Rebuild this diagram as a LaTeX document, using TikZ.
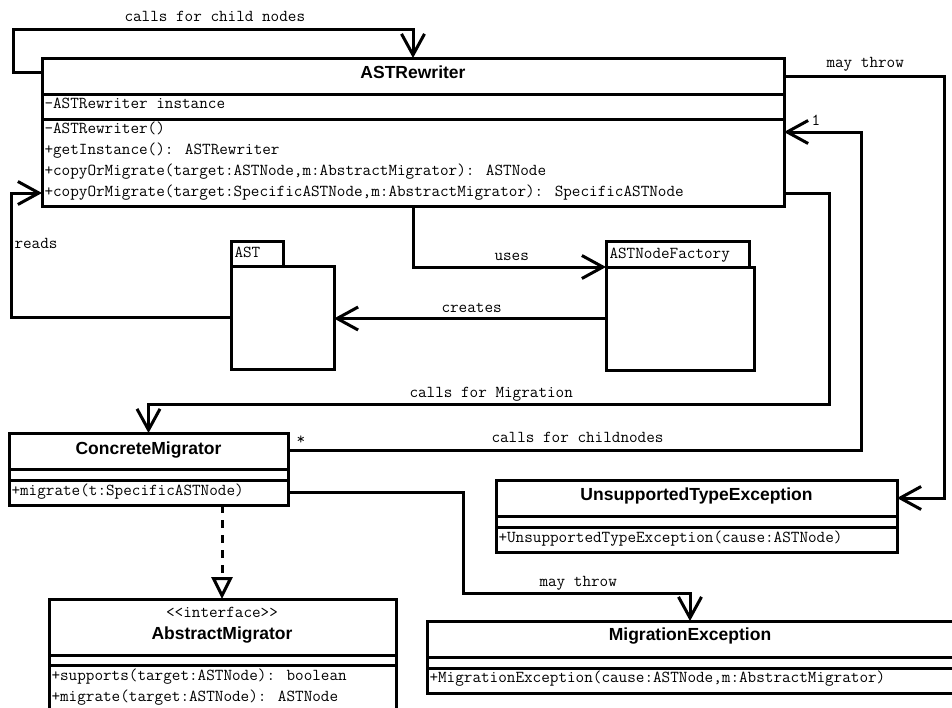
\documentclass[tikz,border=0pt]{standalone}
\usepackage{fontspec}
\setmainfont{Liberation Sans}
\newfontfamily\umlmono{Latin Modern Mono}
\usetikzlibrary{arrows.meta}
\begin{document}
\begin{tikzpicture}[x=1pt,y=-1pt,
  line width=3pt,
  box/.style={draw, line width=3pt, rectangle, inner sep=0pt, outer sep=0pt, anchor=north west},
  mono/.style={font=\umlmono\fontsize{16.7}{19}\selectfont, inner sep=0pt, anchor=base west},
  cname/.style={font=\bfseries\fontsize{17.5}{20}\selectfont, inner sep=0pt, anchor=base},
  assoc/.style={-{Straight Barb[length=21pt,width=23pt]}, line join=miter},
  realize/.style={dash pattern=on 8pt off 7pt, -{Triangle[length=22pt,width=21pt,fill=white]}}
]
\useasboundingbox (0,0) rectangle (952,707);
\clip (0,0) rectangle (952,707);

% ---------- ASTRewriter ----------
\node[box, minimum width=742pt, minimum height=148pt] (rw) at (42,58) {};
\draw (rw.west |- 0,94) -- (rw.east |- 0,94);
\draw (rw.west |- 0,119) -- (rw.east |- 0,119);
\node[cname] (rwT) at (413,78) {ASTRewriter};
\node[mono] (rwA) at (43,108) {-ASTRewriter instance};
\node[mono] (rwO1) at (43,133) {-ASTRewriter()};
\node[mono] (rwO2) at (43,154) {+getInstance(): ASTRewriter};
\node[mono] (rwO3) at (43,175) {+copyOrMigrate(target:ASTNode,m:AbstractMigrator): ASTNode};
\node[mono] (rwO4) at (43,196) {+copyOrMigrate(target:SpecificASTNode,m:AbstractMigrator): SpecificASTNode};

% ---------- AST package ----------
\node[box, minimum width=52pt, minimum height=25pt] (astTab) at (231,241) {};
\node[box, minimum width=103pt, minimum height=103pt] (ast) at (231,266) {};
\node[mono] (astL) at (233,257) {AST};

% ---------- ASTNodeFactory package ----------
\node[box, minimum width=143pt, minimum height=26pt] (facTab) at (606,241) {};
\node[box, minimum width=148pt, minimum height=103pt] (fac) at (606,267) {};
\node[mono] (facL) at (608,258) {ASTNodeFactory};

% ---------- ConcreteMigrator ----------
\node[box, minimum width=279pt, minimum height=72pt] (cm) at (9,433) {};
\draw (cm.west |- 0,469) -- (cm.east |- 0,469);
\draw (cm.west |- 0,480) -- (cm.east |- 0,480);
\node[cname] (cmT) at (148.5,454) {ConcreteMigrator};
\node[mono] (cmO) at (10,495) {+migrate(t:SpecificASTNode)};

% ---------- UnsupportedTypeException ----------
\node[box, minimum width=401pt, minimum height=72pt] (ute) at (496,480) {};
\draw (ute.west |- 0,516) -- (ute.east |- 0,516);
\draw (ute.west |- 0,527) -- (ute.east |- 0,527);
\node[cname] (uteT) at (696.5,500) {UnsupportedTypeException};
\node[mono] (uteO) at (497,542) {+UnsupportedTypeException(cause:ASTNode)};

% ---------- MigrationException ----------
\node[box, minimum width=540pt, minimum height=72pt] (me) at (427,621) {};
\draw (me.west |- 0,657) -- (me.east |- 0,657);
\draw (me.west |- 0,668) -- (me.east |- 0,668);
\node[cname] (meT) at (690,640) {MigrationException};
\node[mono] (meO) at (428,682) {+MigrationException(cause:ASTNode,m:AbstractMigrator)};

% ---------- AbstractMigrator ----------
\node[box, minimum width=347pt, minimum height=125pt] (am) at (49,599) {};
\draw (am.west |- 0,655) -- (am.east |- 0,655);
\draw (am.west |- 0,665) -- (am.east |- 0,665);
\node[mono, anchor=base] (amS) at (222,617) {<<interface>>};
\node[cname] (amT) at (222,639.5) {AbstractMigrator};
\node[mono] (amO1) at (50,680) {+supports(target:ASTNode): boolean};
\node[mono] (amO2) at (50,701) {+migrate(target:ASTNode): ASTNode};

% ---------- connectors ----------
% recursion on child nodes
\draw[assoc] (rw.west |- 0,72) -- (13,72) -- (13,29) -- (413,29) -- (rw.north);
\node[mono] (lChild) at (123,21) {calls for child nodes};

% reading the tree
\draw[assoc] (ast.west) -- (11,317.5) -- (11,193) -- (rw.west |- 0,193);
\node[mono] (lReads) at (13,248) {reads};

% factory usage
\draw[assoc] (rw.south) |- (fac.north west);
\node[mono] (lUses) at (493,260) {uses};

% factory creates tree nodes
\draw[assoc] (fac.west) -- (ast.east |- fac.west);
\node[mono] (lCreates) at (440,312) {creates};

% migration call
\draw[assoc] (rw.east |- 0,193) -- (829,193) -- (829,404) -- (148.5,404) -- (cm.north);
\node[mono] (lMig) at (408,397) {calls for Migration};

% migrator back to rewriter
\draw[assoc] (cm.east |- 0,450) -- (861,450) -- (861,132) -- (rw.east |- 0,132);
\node[mono] (lChildNodes) at (490,442) {calls for childnodes};
\node[mono] (mStar) at (295,444) {*};
\node[mono] (mOne) at (810,125) {1};

% exceptions
\draw[assoc] (rw.east |- 0,76) -- (944,76) -- (944,498) -- (ute.east |- 0,498);
\node[mono] (lThrow1) at (825,67) {may throw};
\draw[assoc] (cm.east |- 0,492) -- (463,492) -- (463,593) -- (690,593) -- (me.north -| 690,0);
\node[mono] (lThrow2) at (538,586) {may throw};

% interface realization
\draw[realize] (cm.south -| 222,0) -- (am.north -| 222,0);
\end{tikzpicture}
\end{document}
